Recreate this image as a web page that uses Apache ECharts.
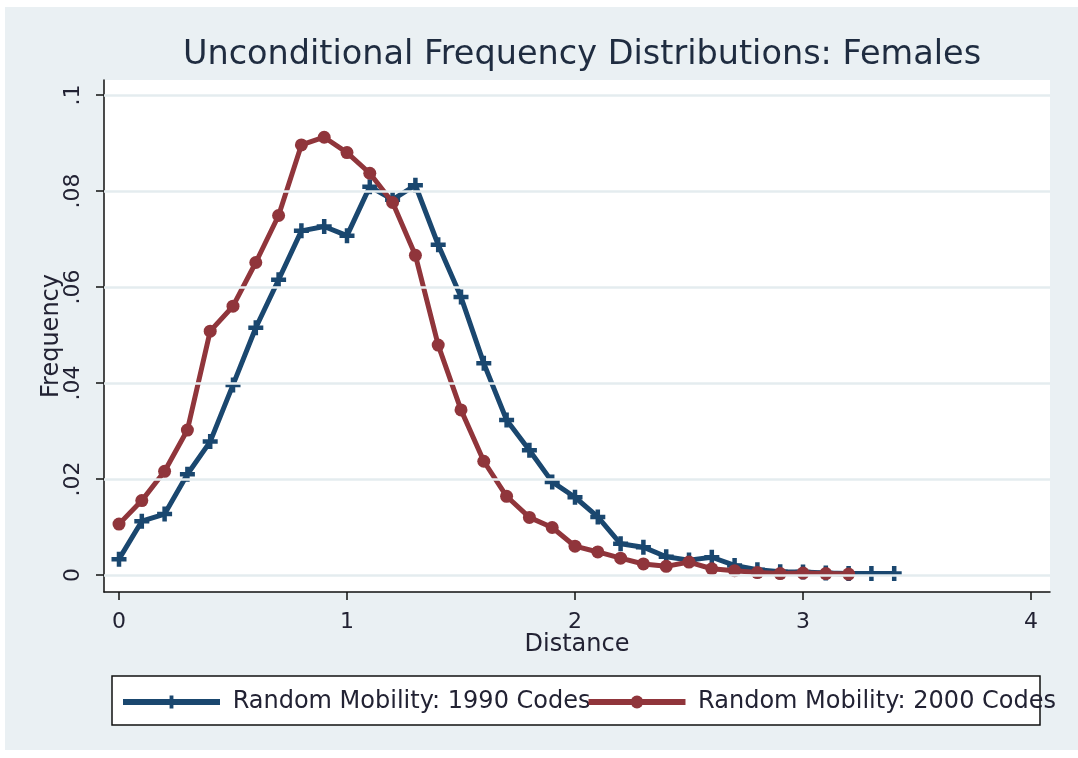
<!DOCTYPE html>
<html>
<head>
<meta charset="utf-8">
<script src="https://cdn.jsdelivr.net/npm/echarts@6/dist/echarts.min.js"></script>
<style>
html,body{margin:0;padding:0;background:#ffffff;}
#chart{width:1078px;height:758px;}
</style>
</head>
<body>
<div id="chart"></div>
<script>
// ---- data ----
var distances1990 = [0,0.1,0.2,0.3,0.4,0.5,0.6,0.7,0.8,0.9,1.0,1.1,1.2,1.3,1.4,1.5,1.6,1.7,1.8,1.9,2.0,2.1,2.2,2.3,2.4,2.5,2.6,2.7,2.8,2.9,3.0,3.1,3.2,3.3,3.4];
var freq1990 = [0.0033,0.0112,0.0127,0.0210,0.0278,0.0396,0.0515,0.0615,0.0717,0.0726,0.0707,0.0809,0.0782,0.0812,0.0688,0.0579,0.0441,0.0323,0.0260,0.0194,0.0162,0.0121,0.0065,0.0058,0.0038,0.0031,0.0037,0.0020,0.0011,0.0007,0.0006,0.0004,0.0003,0.0003,0.0003];
var distances2000 = [0,0.1,0.2,0.3,0.4,0.5,0.6,0.7,0.8,0.9,1.0,1.1,1.2,1.3,1.4,1.5,1.6,1.7,1.8,1.9,2.0,2.1,2.2,2.3,2.4,2.5,2.6,2.7,2.8,2.9,3.0,3.1,3.2];
var freq2000 = [0.0106,0.0155,0.0216,0.0302,0.0508,0.0560,0.0651,0.0749,0.0896,0.0912,0.0880,0.0837,0.0776,0.0666,0.0479,0.0344,0.0237,0.0164,0.0120,0.0099,0.0060,0.0048,0.0035,0.0023,0.0018,0.0027,0.0013,0.0009,0.0005,0.0003,0.0004,0.0003,0.0002];
var xTicks = [0,1,2,3,4];
var yTicks = [0,0.02,0.04,0.06,0.08,0.1];
var seriesNames = ['Random Mobility: 1990 Codes','Random Mobility: 2000 Codes'];
var titleText = 'Unconditional Frequency Distributions: Females';

function pairs(xs, ys){ return xs.map(function(x,i){ return [x, ys[i]]; }); }
function yFmt(v){
  if (Math.abs(v) < 1e-9) return '0';
  return String(+(+v).toFixed(2)).replace(/^0/, '');
}

var FONT = 'DejaVu Sans';
var BLUE = '#1a476f', RED = '#90353b';
var plusPath = 'path://M-1.5,-5H1.5V-1.5H5V1.5H1.5V5H-1.5V1.5H-5V-1.5H-1.5Z';

var chart = echarts.init(document.getElementById('chart'), null, {renderer:'canvas'});
chart.setOption({
  animation: false,
  backgroundColor: '#ffffff',
  graphic: [
    {type:'rect', z:-10, silent:true, shape:{x:5,y:7,width:1073,height:743}, style:{fill:'#eaf0f3'}},
    {type:'rect', z:-5, silent:true, shape:{x:112,y:676,width:928,height:49}, style:{fill:'#ffffff', stroke:'#111111', lineWidth:1.5}}
  ],
  title: {
    text: titleText,
    left: 577,
    textAlign: 'center',
    top: 33,
    textStyle: {fontFamily: FONT, fontSize: 33.5, fontWeight: 'normal', color: '#1f2c40'}
  },
  legend: {
    data: seriesNames,
    left: 120,
    top: 690,
    padding: 0,
    itemWidth: 97,
    itemHeight: 16,
    itemGap: -5,
    lineStyle: {width: 6},
    formatter: function(n){ return ' ' + n; },
    textStyle: {fontFamily: FONT, fontSize: 24, color: '#222233'}
  },
  grid: {
    left: 104, right: 28, top: 80, bottom: 166,
    show: true, backgroundColor: '#ffffff', borderWidth: 0
  },
  xAxis: {
    type: 'value',
    min: -15/228, max: 931/228,
    name: 'Distance',
    nameLocation: 'middle',
    nameGap: 41,
    nameMoveOverlap: false,
    nameTextStyle: {fontFamily: FONT, fontSize: 24, color: '#222233'},
    axisLine: {show: true, onZero: false, lineStyle: {color: '#111111', width: 1.5}},
    axisTick: {show: true, length: 8, customValues: xTicks, lineStyle: {color: '#111111', width: 1.5}},
    axisLabel: {show: true, customValues: xTicks, margin: 19, fontFamily: FONT, fontSize: 22, color: '#222233',
      formatter: function(v){ return String(v); }},
    splitLine: {show: false}
  },
  yAxis: {
    type: 'value',
    min: -17/4800, max: 495/4800,
    name: 'Frequency',
    nameLocation: 'middle',
    nameGap: 40,
    nameRotate: 90,
    nameMoveOverlap: false,
    nameTextStyle: {fontFamily: FONT, fontSize: 24, color: '#222233'},
    axisLine: {show: true, onZero: false, lineStyle: {color: '#111111', width: 1.5}},
    axisTick: {show: true, length: 8, customValues: yTicks, lineStyle: {color: '#111111', width: 1.5}},
    axisLabel: {show: true, customValues: yTicks, rotate: 90, margin: 20, fontFamily: FONT, fontSize: 22, color: '#222233',
      formatter: yFmt},
    splitLine: {show: false}
  },
  series: [
    {
      name: 'gridlines',
      type: 'line',
      data: [],
      z: 1,
      silent: true,
      markLine: {
        silent: true,
        symbol: ['none','none'],
        label: {show: false},
        lineStyle: {color: '#e4ecef', width: 2.5, type: 'solid'},
        data: yTicks.map(function(v){ return {yAxis: v}; })
      }
    },
    {
      name: seriesNames[0],
      type: 'line',
      z: 3,
      data: pairs(distances1990, freq1990),
      symbol: plusPath,
      symbolSize: 15,
      showAllSymbol: true,
      lineStyle: {color: BLUE, width: 5},
      itemStyle: {color: BLUE}
    },
    {
      name: seriesNames[1],
      type: 'line',
      z: 4,
      data: pairs(distances2000, freq2000),
      symbol: 'circle',
      symbolSize: 13,
      showAllSymbol: true,
      lineStyle: {color: RED, width: 5},
      itemStyle: {color: RED}
    }
  ]
});
</script>
</body>
</html>
